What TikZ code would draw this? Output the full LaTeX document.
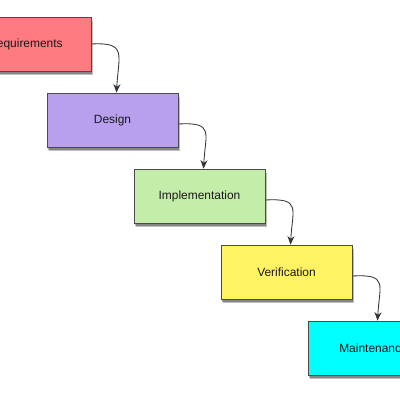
\documentclass[tikz,border=0pt]{standalone}
\usepackage{fontspec}
\setmainfont{Liberation Sans}
\usetikzlibrary{arrows.meta,shadows}
\definecolor{reqred}{HTML}{FF7B82}
\definecolor{despurple}{HTML}{B8A0EE}
\definecolor{impgreen}{HTML}{C5EDAA}
\definecolor{veryellow}{HTML}{FFF263}
\definecolor{mntcyan}{HTML}{00FFFF}
\definecolor{boxline}{HTML}{4A4A4A}
\begin{document}
\begin{tikzpicture}[x=0.025cm,y=-0.025cm]
	% styles
	\tikzstyle{phase} = [draw=boxline,line width=0.6pt,minimum width=3.275cm,minimum height=1.35cm,
		inner sep=0pt,font=\fontsize{8.5}{10}\selectfont,text=black!90,
		drop shadow={shadow xshift=0.05cm,shadow yshift=-0.11cm,fill=black,opacity=0.25},
		drop shadow={shadow xshift=0.03cm,shadow yshift=-0.07cm,fill=black,opacity=0.3}]
	\tikzstyle{flow} = [draw=black!80,line width=0.6pt,-{Stealth[length=6pt,width=5pt]}]
	
	% bounding box
	\fill[white] (0,0) rectangle (400,400);
	\clip (0,0) rectangle (400,400);
	
	% phases
	\node[phase,fill=reqred] (req) at (25.5,44) {Requirements};
	\node[phase,fill=despurple] (des) at (112.5,120) {Design};
	\node[phase,fill=impgreen] (imp) at (199.5,196) {Implementation};
	\node[phase,fill=veryellow] (ver) at (286.5,272) {Verification};
	\node[phase,fill=mntcyan] (mnt) at (373.5,348) {Maintenance};
	
	% arrows
	\draw[flow] (req.east) .. controls +(36,-2) and +(2,-38) .. ([xshift=0.1cm]des.north);
	\draw[flow] ([yshift=-0.1cm]des.east) .. controls +(36,-2) and +(2,-36) .. ([xshift=0.1cm]imp.north);
	\draw[flow] ([yshift=-0.1cm]imp.east) .. controls +(36,-2) and +(2,-36) .. ([xshift=0.1cm]ver.north);
	\draw[flow] ([yshift=-0.1cm]ver.east) .. controls +(36,-2) and +(2,-36) .. ([xshift=0.1cm]mnt.north);
\end{tikzpicture}
\end{document}
